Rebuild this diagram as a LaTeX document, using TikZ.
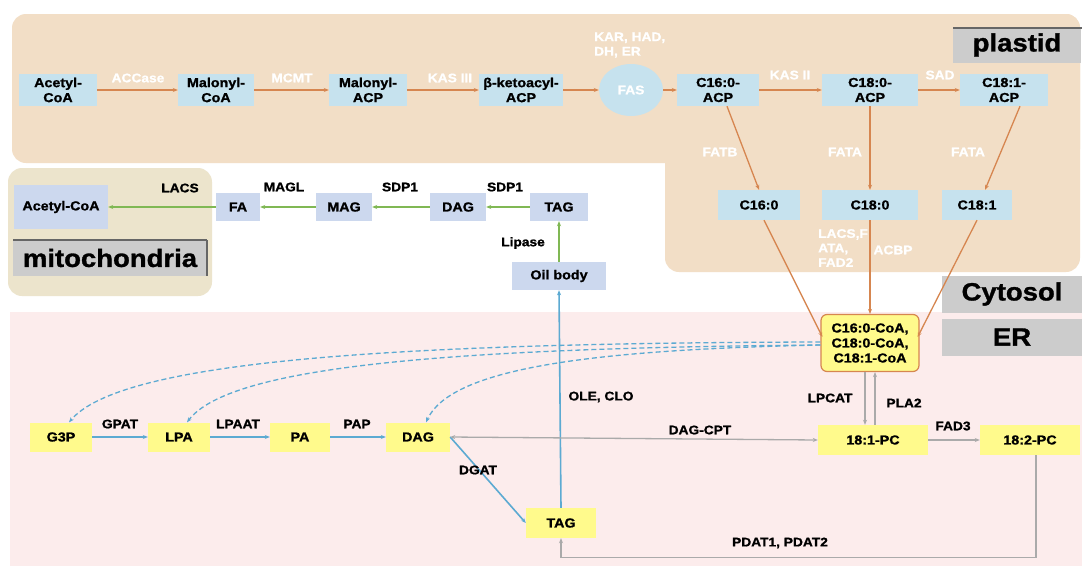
\documentclass[tikz,border=0pt]{standalone}
\usepackage{fontspec}
\setmainfont{Liberation Sans}[FakeStretch=1.1, BoldFeatures={FakeBold=1.2}]
\usetikzlibrary{arrows.meta,shapes.geometric,calc}
\definecolor{plastidc}{RGB}{242,222,198}
\definecolor{mitoc}{RGB}{236,228,204}
\definecolor{erc}{RGB}{252,236,236}
\definecolor{nblue}{RGB}{198,226,238}
\definecolor{nlav}{RGB}{204,216,238}
\definecolor{nyel}{RGB}{255,250,140}
\definecolor{graybox}{RGB}{204,204,204}
\definecolor{orarr}{RGB}{214,134,80}
\definecolor{grarr}{RGB}{128,184,84}
\definecolor{blarr}{RGB}{92,170,210}
\definecolor{gyarr}{RGB}{170,170,170}
\newcommand\mynodefont{\bfseries\fontsize{13}{15}\selectfont}
\newcommand\mylabfont{\bfseries\fontsize{12.5}{14.5}\selectfont}
\newcommand\mybigfont{\bfseries\fontsize{25}{29}\selectfont}
\tikzset{
  box/.style={font=\mynodefont, align=center, inner sep=0pt, text=black},
  bluebox/.style={box, fill=nblue, minimum height=32pt},
  lavbox/.style={box, fill=nlav, minimum height=28pt},
  yelbox/.style={box, fill=nyel, minimum height=29pt},
  lab/.style={font=\mylabfont, align=center, inner sep=0pt, text=black},
  wlab/.style={font=\mylabfont, align=center, inner sep=0pt, text=white},
  region/.style={font=\mybigfont, fill=graybox, inner sep=0pt, text=black},
  tip/.style={-{Stealth[length=5pt,width=4pt]}},
  orline/.style={tip, draw=orarr, line width=1.3pt},
  grline/.style={tip, draw=grarr, line width=1.3pt},
  blline/.style={tip, draw=blarr, line width=1.6pt},
  gyline/.style={tip, draw=gyarr, line width=1.3pt},
  dashline/.style={tip, draw=blarr, line width=1.3pt, dashed, dash pattern=on 5pt off 3pt},
}
\begin{document}
\begin{tikzpicture}[x=1pt,y=-1pt]
\useasboundingbox (0,0) rectangle (1082,571);
\fill[white] (0,0) rectangle (1082,571);
% regions
\fill[erc] (10,312) rectangle (1082,566);
\fill[plastidc, rounded corners=14pt] (12,14) rectangle (1080,163);
\fill[plastidc, rounded corners=14pt] (665,14) rectangle (1080,272);
\fill[plastidc] (665,100) rectangle (700,163);
\fill[mitoc, rounded corners=14pt] (8,168) rectangle (212,296);
% region labels
\node[region, minimum width=128pt, minimum height=35pt] (lplastid) at (1017,45) {plastid};
\draw[gray!80!black, line width=1.2pt] (953,28) -- (1082,28);
\node[region, minimum width=140pt, minimum height=37pt] (lcyto) at (1012,294) {Cytosol};
\node[region, minimum width=140pt, minimum height=37pt] (ler) at (1012,337) {ER};
\node[region, minimum width=194pt, minimum height=36pt] (lmito) at (110,258) {mitochondria};
\draw[gray!80!black, line width=1.2pt] (13,240) -- (207,240);
\draw[gray!80!black, line width=1.2pt] (207,240) -- (207,276);
% plastid row
\node[bluebox, minimum width=78pt] (acoa) at (58,90) {Acetyl-\\CoA};
\node[bluebox, minimum width=76pt] (mcoa) at (216,90) {Malonyl-\\CoA};
\node[bluebox, minimum width=78pt] (macp) at (368,90) {Malonyl-\\ACP};
\node[bluebox, minimum width=84pt] (bacp) at (521,90) {β-ketoacyl-\\ACP};
\node[ellipse, fill=nblue, minimum width=64pt, minimum height=52pt, inner sep=0pt, font=\mylabfont, text=white] (fas) at (631,90) {FAS};
\node[bluebox, minimum width=82pt] (c16acp) at (718,90) {C16:0-\\ACP};
\node[bluebox, minimum width=96pt] (c18acp) at (870,90) {C18:0-\\ACP};
\node[bluebox, minimum width=88pt] (c181acp) at (1004,90) {C18:1-\\ACP};
\draw[orline] (acoa) -- (mcoa);
\draw[orline] (mcoa) -- (macp);
\draw[orline] (macp) -- (bacp);
\draw[orline] (bacp) -- (fas);
\draw[orline] (fas) -- (c16acp);
\draw[orline] (c16acp) -- (c18acp);
\draw[orline] (c18acp) -- (c181acp);
\node[wlab] (lacc) at (138,78) {ACCase};
\node[wlab] (lmcmt) at (292,78) {MCMT};
\node[wlab] (lkas3) at (450,78) {KAS III};
\node[wlab, anchor=west, align=left] (lkar) at (594,45) {KAR, HAD,\\DH, ER};
\node[wlab] (lkas2) at (790,75) {KAS II};
\node[wlab] (lsad) at (940,75) {SAD};
% free fatty acids
\node[bluebox, minimum width=82pt, minimum height=30pt] (c16) at (759,205) {C16:0};
\node[bluebox, minimum width=96pt, minimum height=30pt] (c18) at (870,205) {C18:0};
\node[bluebox, minimum width=70pt, minimum height=30pt] (c181) at (977,205) {C18:1};
\draw[orline] ($(c16acp.south)+(9,0)$) -- (c16.north);
\draw[orline] (c18acp.south) -- (c18.north);
\draw[orline] ($(c181acp.south)+(16,0)$) -- ($(c181.north)+(8,0)$);
\node[wlab] (lfatb) at (720,152) {FATB};
\node[wlab] (lfata1) at (845,152) {FATA};
\node[wlab] (lfata2) at (968,152) {FATA};
\node[wlab, anchor=west, align=left] (llacs) at (818,248) {LACS,F\\ATA,\\FAD2};
\node[wlab] (lacbp) at (893,250) {ACBP};
% acyl-CoA pool
\node[box, fill=nyel, draw=orarr, line width=1.2pt, rounded corners=6pt, minimum width=98pt, minimum height=57pt] (coa) at (870,343) {C16:0-CoA,\\C18:0-CoA,\\C18:1-CoA};
\draw[orline] ($(c16.south)+(5,0)$) -- ($(coa.west)+(2,-6)$);
\draw[orline] (c18.south) -- (coa.north);
\draw[orline] ($(c181.south)+(0,0)$) -- ($(coa.east)+(-2,-6)$);
% cytosol degradation
\node[box, fill=nlav, minimum width=94pt, minimum height=44pt] (macoa) at (61,207) {Acetyl-CoA};
\node[lavbox, minimum width=44pt] (fa) at (238,207) {FA};
\node[lavbox, minimum width=56pt] (mag) at (344,207) {MAG};
\node[lavbox, minimum width=56pt] (dagc) at (458,207) {DAG};
\node[lavbox, minimum width=58pt] (tagc) at (559,207) {TAG};
\node[lavbox, minimum width=94pt] (oil) at (559,276) {Oil body};
\draw[grline] (tagc) -- (dagc);
\draw[grline] (dagc) -- (mag);
\draw[grline] (mag) -- (fa);
\draw[grline] (fa) -- (macoa);
\draw[grline] (oil) -- (tagc);
\node[lab] (llacs2) at (180,188) {LACS};
\node[lab] (lmagl) at (284,187) {MAGL};
\node[lab] (lsdp1) at (400,187) {SDP1};
\node[lab] (lsdp2) at (505,187) {SDP1};
\node[lab] (llip) at (523,243) {Lipase};
% ER
\node[yelbox, minimum width=62pt] (g3p) at (61,437) {G3P};
\node[yelbox, minimum width=62pt] (lpa) at (179,437) {LPA};
\node[yelbox, minimum width=60pt] (pa) at (300,437) {PA};
\node[yelbox, minimum width=64pt] (dag) at (418,437) {DAG};
\node[yelbox, minimum width=110pt, minimum height=30pt] (pc1) at (873,440) {18:1-PC};
\node[yelbox, minimum width=100pt, minimum height=30pt] (pc2) at (1030,440) {18:2-PC};
\node[yelbox, minimum width=70pt, minimum height=30pt] (tag) at (561,523) {TAG};
\draw[blline] (g3p) -- (lpa);
\draw[blline] (lpa) -- (pa);
\draw[blline] (pa) -- (dag);
\draw[blline] (dag.east) -- (tag.west);
\draw[blline] (tag.north) -- (oil.south);
\node[lab] (lgpat) at (120,424) {GPAT};
\node[lab] (llpaat) at (238,424) {LPAAT};
\node[lab] (lpap) at (357,424) {PAP};
\node[lab] (ldgat) at (478,470) {DGAT};
\node[lab] (lole) at (601,397) {OLE, CLO};
% dashed acyl-CoA supply
\draw[dashline] ($(coa.west)+(0,-1)$) .. controls (380,343) and (120,362) .. ($(g3p.north)+(8,0)$);
\draw[dashline] ($(coa.west)+(0,2)$) .. controls (450,348) and (230,366) .. ($(lpa.north)+(8,0)$);
\draw[dashline] ($(coa.west)+(0,2)$) .. controls (580,350) and (450,370) .. ($(dag.north)+(8,0)$);
% gray arrows
\draw[gyline, {Stealth[length=5pt,width=4pt]}-{Stealth[length=5pt,width=4pt]}] (dag.east) -- (pc1.west);
\draw[gyline] ($(coa.south)+(-5,0)$) -- ($(pc1.north)+(-8,0)$);
\draw[gyline] ($(pc1.north)+(2,0)$) -- ($(coa.south)+(5,0)$);
\draw[gyline] (pc1) -- (pc2);
\draw[gyline] ($(pc2.south)+(6,0)$) -- ++(0,102) -| (tag.south);
\node[lab] (ldagcpt) at (700,430) {DAG-CPT};
\node[lab] (llpcat) at (830,398) {LPCAT};
\node[lab] (lpla2) at (904,403) {PLA2};
\node[lab] (lfad3) at (953,426) {FAD3};
\node[lab] (lpdat) at (780,543) {PDAT1, PDAT2};
\end{tikzpicture}
\end{document}
